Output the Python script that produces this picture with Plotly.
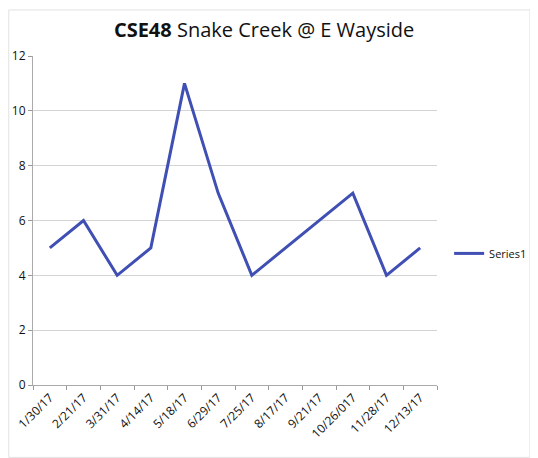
import plotly.graph_objects as go

# sample dates and readings
dates = ['1/30/17', '2/21/17', '3/31/17', '4/14/17', '5/18/17', '6/29/17',
         '7/25/17', '8/17/17', '9/21/17', '10/26/017', '11/28/17', '12/13/17']
values = [5, 6, 4, 5, 11, 7, 4, 5, 6, 7, 4, 5]
y_ticks = [0, 2, 4, 6, 8, 10, 12]

line = go.Scatter(x=dates, y=values, mode='lines', name='Series1',
                  line=dict(color='#3F4FB3', width=3))

fig = go.Figure(data=[line])
# page body has an 8px margin, so margins are shifted to compensate
fig.update_layout(
    width=538, height=458,
    paper_bgcolor='white', plot_bgcolor='white',
    margin=dict(l=25, r=109, t=48, b=81),
    font=dict(family='Open Sans, Liberation Sans, sans-serif', color='#222'),
    title=dict(text='<b>CSE48</b> Snake Creek @ E Wayside', x=0.476, xanchor='center',
               y=0.9525, yanchor='middle', font=dict(size=20, color='#111')),
    showlegend=True,
    legend=dict(x=1.03, y=0.40, xanchor='left', yanchor='middle',
                font=dict(size=11, color='#111'), bgcolor='rgba(0,0,0,0)'),
)
fig.update_xaxes(
    type='category', range=[-0.5, len(dates) - 0.5], tickangle=-45,
    tickson='boundaries', ticks='outside', ticklen=4, tickcolor='#999',
    showline=True, linecolor='#aaa', linewidth=1,
    showgrid=False, tickfont=dict(size=12, color='#111'), automargin=False,
)
fig.update_yaxes(
    range=[0, 12], tickvals=y_ticks, ticks='outside', ticklen=4, tickcolor='#999',
    showline=True, linecolor='#aaa', linewidth=1, showgrid=True, gridcolor='#d4d4d4',
    zeroline=False, tickfont=dict(size=12, color='#111'), automargin=False,
)
fig.add_shape(type='rect', xref='paper', yref='paper', x0=-0.06, x1=1.23, y0=-0.22, y1=1.14,
              line=dict(color='#e2e2e2', width=1))

fig.write_html("out.html")
